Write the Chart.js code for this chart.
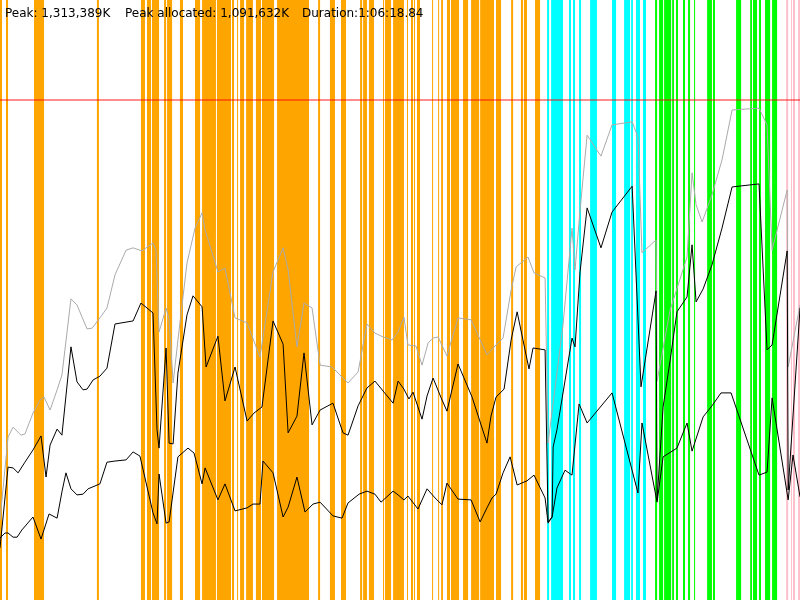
<!DOCTYPE html>
<html>
<head>
<meta charset="utf-8">
<title>Memory profile</title>
<script src="https://cdn.jsdelivr.net/npm/chart.js@4.4.1/dist/chart.umd.min.js"></script>
<style>
  html, body { margin: 0; padding: 0; background: #fff; }
  #wrap { width: 800px; height: 600px; }
</style>
</head>
<body>
<div id="wrap"><canvas id="chart" width="800" height="600"></canvas></div>
<script>
// summary figures (K) and run length (seconds, 1:06:18.84)
const peakK = 1313389;
const peakAllocatedK = 1091632;
const durationSec = 3978.84;

// heap samples: [time in s, size in MB]
const committedHeap = [
  [0,210],[40,428],[65,454],[104,433],[124,436],[164,491],[199,525],[219,533],[249,499],[284,552],
  [308,591],[353,791],[383,775],[433,712],[458,714],[497,741],[532,767],[572,854],[627,919],[662,925],
  [706,917],[761,938],[776,919],[791,704],[826,767],[841,736],[861,570],[885,683],[930,885],[970,977],
  [1005,1017],[1020,972],[1084,862],[1119,872],[1169,741],[1229,728],[1293,638],[1358,862],[1408,925],[1433,867],
  [1477,665],[1512,780],[1552,767],[1592,617],[1651,612],[1731,570],[1781,599],[1825,725],[1865,701],[1905,691],
  [1950,683],[1980,704],[2009,743],[2029,670],[2069,667],[2099,617],[2129,675],[2154,688],[2179,691],[2223,641],
  [2278,741],[2343,736],[2422,644],[2467,670],[2502,688],[2542,814],[2567,875],[2626,901],[2656,859],[2711,846],
  [2726,412],[2800,722],[2845,977],[2860,867],[2885,1024],[2920,1221],[2989,1166],[3044,1248],[3144,1256],[3173,1216],
  [3193,912],[3263,946],[3268,575],[3333,762],[3417,901],[3442,1122],[3462,1038],[3492,993],[3541,1064],[3591,1156],
  [3641,1287],[3775,1292],[3815,1248],[3840,919],[3915,1077],[3920,612],[3979,775]
];

const usedHeap = [
  [0,137],[40,349],[65,347],[90,334],[124,362],[164,394],[204,431],[229,323],[249,407],[284,449],
  [308,433],[353,665],[383,573],[413,552],[433,554],[463,578],[497,588],[532,609],[572,725],[662,733],
  [701,780],[761,754],[781,447],[791,399],[826,662],[841,412],[861,410],[885,596],[930,749],[960,799],
  [1005,770],[1025,612],[1084,693],[1119,523],[1169,612],[1229,470],[1263,491],[1303,507],[1358,733],[1408,672],
  [1433,439],[1477,483],[1512,649],[1552,460],[1592,499],[1656,517],[1706,439],[1731,433],[1781,510],[1825,557],
  [1865,575],[1910,546],[1955,517],[1980,575],[2009,554],[2034,528],[2054,546],[2099,475],[2124,536],[2154,583],
  [2194,531],[2223,496],[2278,620],[2348,533],[2422,412],[2442,483],[2467,533],[2507,554],[2542,683],[2572,757],
  [2601,683],[2631,607],[2651,662],[2711,657],[2726,205],[2746,218],[2751,402],[2770,447],[2845,688],[2860,665],
  [2885,862],[2920,1030],[2989,925],[3044,1019],[3144,1087],[3188,560],[3263,812],[3268,263],[3298,507],[3333,630],
  [3367,757],[3417,796],[3442,933],[3462,783],[3497,817],[3541,880],[3591,977],[3641,1085],[3775,1093],[3815,657],
  [3840,670],[3915,917],[3920,289],[3979,767]
];

const afterGcHeap = [
  [0,163],[25,176],[40,176],[65,165],[85,165],[109,184],[164,218],[204,160],[244,226],[284,215],
  [308,284],[328,334],[353,292],[383,276],[413,278],[438,292],[497,305],[532,362],[572,365],[627,368],
  [662,389],[696,378],[761,229],[781,200],[791,331],[826,202],[841,205],[885,376],[935,399],[965,386],
  [1005,305],[1020,347],[1084,263],[1119,305],[1169,234],[1229,242],[1258,252],[1293,252],[1308,365],[1358,334],
  [1408,218],[1433,244],[1477,323],[1517,231],[1557,252],[1592,257],[1656,221],[1701,215],[1731,255],[1786,278],
  [1825,286],[1865,278],[1895,257],[1955,286],[1980,276],[2009,263],[2029,273],[2079,239],[2124,292],[2164,268],
  [2198,250],[2223,307],[2278,265],[2343,263],[2388,205],[2422,242],[2447,268],[2467,278],[2502,334],[2537,376],
  [2572,302],[2621,313],[2656,328],[2711,268],[2726,202],[2746,218],[2770,294],[2810,341],[2845,328],[2880,515],
  [2920,465],[3044,544],[3173,281],[3193,465],[3268,257],[3298,376],[3367,399],[3417,465],[3442,391],[3497,481],
  [3541,510],[3586,544],[3636,544],[3775,328],[3815,336],[3840,531],[3920,263],[3944,381],[3979,271]
];

// activity spans: [start s, end s]
const orangeSpans = [
  [0,10],[30,40],[169,219],[482,492],[701,721],[731,751],[756,791],[816,826],[831,856],[895,910],
  [970,995],[1005,1074],[1079,1149],[1154,1164],[1179,1184],[1194,1214],[1224,1258],[1273,1298],[1303,1363],[1378,1537],
  [1582,1592],[1641,1666],[1696,1721],
  [1791,1801],[1806,1825],[1835,1860],[1905,1910],[1915,1945],[1955,2009],[2024,2029],[2044,2054],[2059,2064],[2074,2089],
  [2149,2154],[2179,2184],[2194,2203],[2223,2238],[2243,2283],[2303,2328],[2343,2383],[2388,2457],[2467,2492],[2542,2552],
  [2591,2601],[2606,2621],[2661,2686]
];
const cyanSpans = [
  [2721,2731],[2741,2800],[2830,2840],[2850,2860],[2880,2890],[2935,2969],[3044,3064],[3104,3134],[3139,3148],[3163,3183],
  [3198,3213]
];
const greenSpans = [
  [3258,3268],[3278,3298],[3303,3338],[3343,3352],[3362,3372],[3397,3407],[3422,3432],[3452,3457],[3517,3541],[3546,3556],
  [3661,3686],[3731,3740],[3745,3765],[3775,3785],[3805,3830],[3840,3865]
];
const pinkSpans = [[3910,3920],[3934,3939],[3944,3954],[3969,3979]];

const peakMB = peakK / 1000;

function toPoints(series) {
  return series.map(([t, v]) => ({ x: t, y: v }));
}

// stepped 0/1 signal so the filled area gives one block per span
function spanSteps(spans) {
  const pts = [{ x: 0, y: 0 }];
  spans.forEach(([s, e]) => {
    pts.push({ x: s, y: 1 }, { x: e, y: 0 });
  });
  pts.push({ x: durationSec, y: 0 });
  return pts;
}

function bandDataset(spans, color) {
  return {
    data: spanSteps(spans),
    yAxisID: 'band',
    stepped: 'before',
    fill: 'origin',
    backgroundColor: color,
    borderColor: 'rgba(0,0,0,0)',
    borderWidth: 0,
    pointRadius: 0,
    order: 10,
  };
}

function lineDataset(series, color, order) {
  return {
    data: toPoints(series),
    yAxisID: 'y',
    borderColor: color,
    borderWidth: 1,
    pointRadius: 0,
    tension: 0,
    fill: false,
    order: order,
  };
}

const fmt = (n) => n.toLocaleString('en-US');

const headerText = {
  id: 'headerText',
  afterDraw(chart) {
    const ctx = chart.ctx;
    ctx.save();
    ctx.font = '12px "DejaVu Sans", sans-serif';
    ctx.fillStyle = '#000';
    ctx.textBaseline = 'alphabetic';
    ctx.fillText('Peak: ' + fmt(peakK) + 'K', 5, 17);
    ctx.fillText('Peak allocated: ' + fmt(peakAllocatedK) + 'K', 125, 17);
    ctx.fillText('Duration:1:06:18.84', 302, 17);
    ctx.restore();
  }
};

new Chart(document.getElementById('chart'), {
  type: 'line',
  data: {
    datasets: [
      lineDataset(afterGcHeap, '#000000', 1),
      lineDataset(usedHeap, '#000000', 1),
      lineDataset(committedHeap, '#aaaaaa', 2),
      {
        data: [{ x: 0, y: peakMB }, { x: durationSec, y: peakMB }],
        yAxisID: 'y',
        borderColor: 'rgba(255,0,0,0.6)',
        borderWidth: 1.5,
        pointRadius: 0,
        fill: false,
        order: 3,
      },
      bandDataset(orangeSpans, '#ffa500'),
      bandDataset(cyanSpans, '#00ffff'),
      bandDataset(greenSpans, '#00ff00'),
      bandDataset(pinkSpans, '#ffc0cb'),
    ],
  },
  options: {
    responsive: false,
    animation: false,
    devicePixelRatio: 1,
    events: [],
    layout: { padding: 0 },
    scales: {
      x: { type: 'linear', min: 0, max: durationSec, display: false },
      y: { min: 0, max: peakMB * 1.2, display: false },
      band: { min: 0, max: 1, display: false },
    },
    plugins: {
      legend: { display: false },
      tooltip: { enabled: false },
    },
  },
  plugins: [headerText],
});
</script>
</body>
</html>
